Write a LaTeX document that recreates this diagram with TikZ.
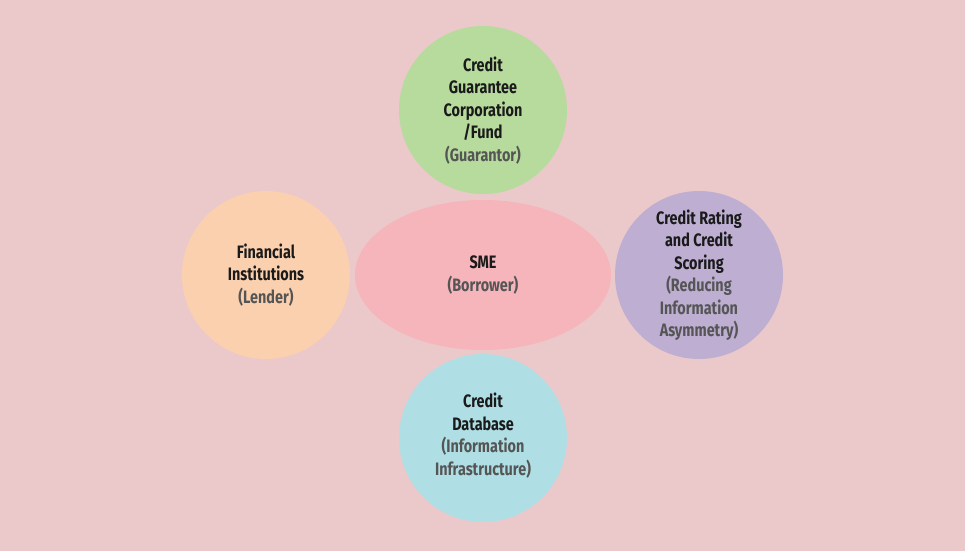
\documentclass[tikz,border=0pt]{standalone}
\usepackage{xcolor}
\usepackage{fontspec}
\setmainfont{Fira Sans}[FakeStretch=0.8]
\usepackage{tikz}
\usetikzlibrary{shapes}
\definecolor{bgpink}{HTML}{EBC9CA}
\definecolor{guargreen}{HTML}{B7DA9D}
\definecolor{lendorange}{HTML}{FBD0AE}
\definecolor{smepink}{HTML}{F5B5BB}
\definecolor{ratepurple}{HTML}{BDAED2}
\definecolor{dbcyan}{HTML}{AFDFE4}
\definecolor{titletext}{HTML}{1A1A1A}
\definecolor{roletext}{HTML}{555555}
\newcommand{\role}[1]{\textcolor{roletext}{#1}}
\tikzset{
	partyblob/.style = {
		circle,
		align = center,
		minimum size = 168pt,
		inner sep = 0pt,
		text = titletext,
		font = \fontsize{18}{22.5}\selectfont\bfseries,
	}
}

\begin{document}
\begin{tikzpicture}[node distance = 164pt]
	\fill[bgpink](-483pt,-276pt) rectangle (482pt,275pt);
	\useasboundingbox(-483pt,-276pt) rectangle (482pt,275pt);
	\node[partyblob, ellipse, minimum width = 256pt, minimum height = 150pt, fill = smepink](sme){SME\\\role{(Borrower)}};
	\node[partyblob, fill = guargreen, above of = sme, yshift = 1pt](guarantor){Credit\\Guarantee\\Corporation\\/Fund\\\role{(Guarantor)}\\[-20pt]};
	\node[partyblob, fill = dbcyan, below of = sme, yshift = 1pt](database){Credit\\Database\\\role{(Information}\\\role{Infrastructure)}\\[-14.5pt]};
	\node[partyblob, fill = lendorange, left of = sme, node distance = 217pt](lender){Financial\\Institutions\\\role{(Lender)}};
	\node[partyblob, fill = ratepurple, right of = sme, node distance = 216pt](rating){Credit Rating\\and Credit\\Scoring\\\role{(Reducing}\\\role{Information}\\\role{Asymmetry)}};
\end{tikzpicture}
\end{document}
